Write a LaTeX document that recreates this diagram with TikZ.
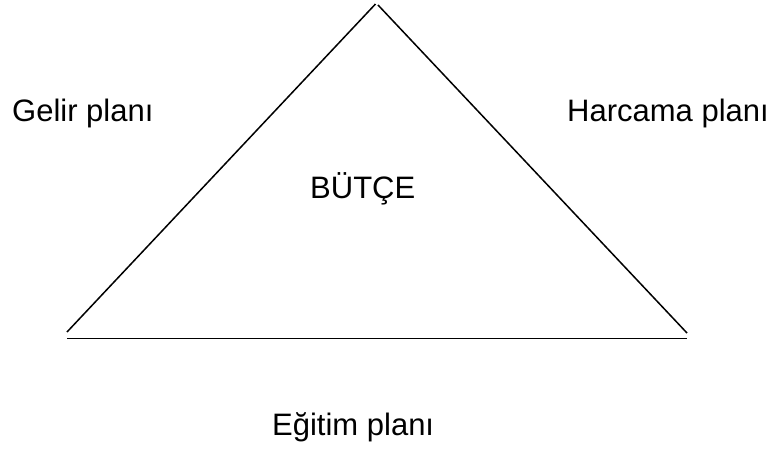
\documentclass[tikz,border=0pt]{standalone}
\usepackage{fontspec}
\setmainfont{Liberation Sans}
\begin{document}
\begin{tikzpicture}[x=1pt,y=-1pt,
  lbl/.style={anchor=base west,inner sep=0pt,font=\fontsize{31}{37}\selectfont},
  edge/.style={line width=1.5pt,black}]
\useasboundingbox (0,0) rectangle (774,448);
\coordinate (apexL) at (375.5,4);
\coordinate (apexR) at (378,5);
\coordinate (bl) at (67,332);
\coordinate (br) at (687,333);
\coordinate (basel) at (67,338.5);
\coordinate (baser) at (687,338.5);
\draw[edge] (apexL) -- (bl);
\draw[edge] (apexR) -- (br);
\draw[edge] (basel) -- (baser);
\node[lbl] (gelir) at (12,121) {Gelir planı};
\node[lbl] (harcama) at (567,121) {Harcama planı};
\node[lbl] (butce) at (310,198) {BÜTÇE};
\node[lbl] (egitim) at (272,435) {Eğitim planı};
\end{tikzpicture}
\end{document}
